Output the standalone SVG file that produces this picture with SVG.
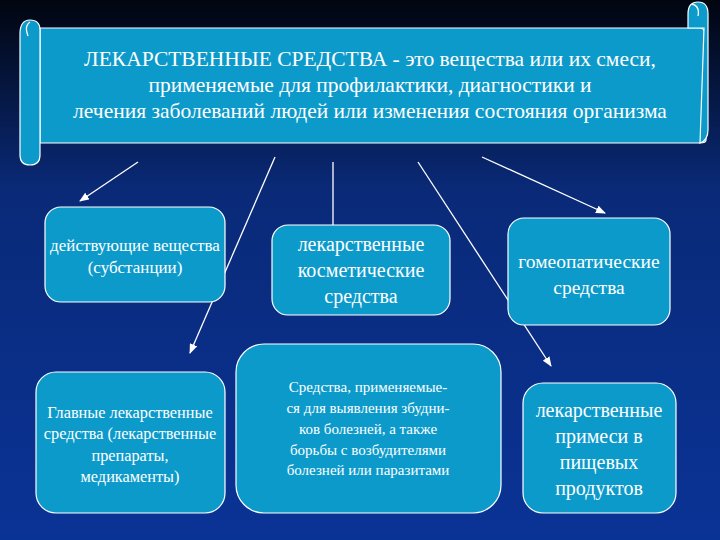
<svg xmlns="http://www.w3.org/2000/svg" width="720" height="540" viewBox="0 0 720 540">
<defs>
<linearGradient id="bg" x1="0" y1="0" x2="0" y2="1"><stop offset="0" stop-color="#01050f"/><stop offset="0.35" stop-color="#0a2a78"/><stop offset="1" stop-color="#0a3396"/></linearGradient>
<marker id="ah" markerWidth="10" markerHeight="8" refX="9" refY="4" orient="auto" markerUnits="userSpaceOnUse"><path d="M0,0 L10,4 L0,8 Z" fill="#fff"/></marker>
<style>
.b{fill:#0c9acb;stroke:#fff;stroke-width:1.2}
.t{font-family:"Liberation Serif",serif;fill:#fff;text-anchor:middle}
.c{stroke:#fff;stroke-width:1.3;fill:none}
</style>
</defs>
<rect width="720" height="540" fill="url(#bg)"/>
<g id="scroll">
<path class="b" d="M40,28 H700 Q706,28 706,40 V140 Q706,143 700,143 H40 Z"/>
<path class="b" d="M688,18 V14 Q688,2 698,2 Q708,2 708,14 V130 Q708,140 700,143 L704,28 H688 Z"/>
<path class="b" d="M20,34 Q20,20 30,20 Q40,20 40,30 V155 Q40,165 30,165 Q20,165 20,155 Z"/>
<path class="c" d="M30,22 Q24,26 28,36 M692,4 Q700,6 698,16"/>
<text class="t" font-size="21.5"><tspan x="370" y="66">ЛЕКАРСТВЕННЫЕ СРЕДСТВА - это вещества или их смеси,</tspan><tspan x="370" y="92">применяемые для профилактики, диагностики и</tspan><tspan x="370" y="118">лечения заболеваний людей или изменения состояния организма</tspan></text>
</g>
<g id="connectors">
<line class="c" x1="138" y1="162" x2="80" y2="201" marker-end="url(#ah)"/>
<line class="c" x1="275" y1="157" x2="190" y2="353" marker-end="url(#ah)"/>
<line class="c" x1="333" y1="162" x2="333" y2="225"/>
<line class="c" x1="418" y1="162" x2="551" y2="366" marker-end="url(#ah)"/>
<line class="c" x1="482" y1="157" x2="605" y2="213" marker-end="url(#ah)"/>
</g>
<g id="n1"><rect class="b" x="45" y="207" width="180" height="95" rx="16"/><text class="t" font-size="17"><tspan x="135" y="251">действующие вещества</tspan><tspan x="135" y="273">(субстанции)</tspan></text></g>
<g id="n2"><rect class="b" x="272" y="225" width="178" height="90" rx="16"/><text class="t" font-size="20"><tspan x="361" y="251">лекарственные</tspan><tspan x="361" y="277">косметические</tspan><tspan x="361" y="303">средства</tspan></text></g>
<g id="n3"><rect class="b" x="508" y="218" width="162" height="107" rx="16"/><text class="t" font-size="19.5"><tspan x="589" y="268">гомеопатические</tspan><tspan x="589" y="294">средства</tspan></text></g>
<g id="n4"><rect class="b" x="36" y="372" width="189" height="141" rx="20"/><text class="t" font-size="16.3"><tspan x="130" y="418">Главные  лекарственные</tspan><tspan x="130" y="439">средства (лекарственные</tspan><tspan x="130" y="461">препараты,</tspan><tspan x="130" y="482">медикаменты)</tspan></text></g>
<g id="n5"><rect class="b" x="236" y="344" width="265" height="169" rx="28"/><text class="t" font-size="15"><tspan x="368" y="392">Средства, применяемые-</tspan><tspan x="368" y="413">ся для выявления збудни-</tspan><tspan x="368" y="434">ков болезней, а также</tspan><tspan x="368" y="455">борьбы с возбудителями</tspan><tspan x="368" y="475">болезней или паразитами</tspan></text></g>
<g id="n6"><rect class="b" x="523" y="383" width="153" height="130" rx="20"/><text class="t" font-size="20"><tspan x="599" y="417">лекарственные</tspan><tspan x="599" y="443">примеси в</tspan><tspan x="599" y="469">пищевых</tspan><tspan x="599" y="495">продуктов</tspan></text></g>
</svg>
